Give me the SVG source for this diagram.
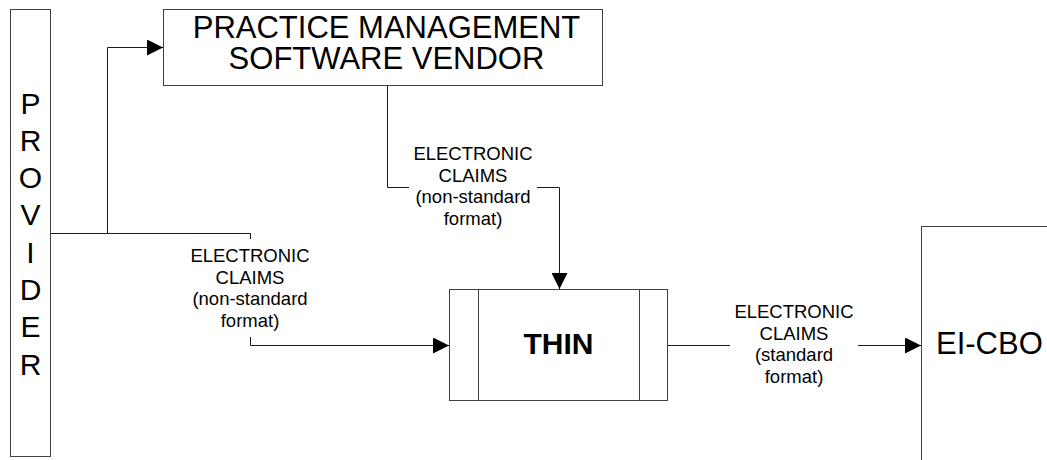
<svg xmlns="http://www.w3.org/2000/svg" width="1047" height="460" viewBox="0 0 1047 460">
  <style>
    .box { fill: #ffffff; stroke: #404040; stroke-width: 1; }
    .conn { fill: none; stroke: #1a1a1a; stroke-width: 1; }
    .big { font-family: "Liberation Sans", Arial, sans-serif; font-size: 30px; fill: #000; }
    .title { font-family: "Liberation Sans", Arial, sans-serif; font-size: 31px; fill: #000; text-anchor: middle; }
    .bold { font-family: "Liberation Sans", Arial, sans-serif; font-size: 30px; font-weight: bold; fill: #000; }
    .lbl { font-family: "Liberation Sans", Arial, sans-serif; font-size: 18.5px; fill: #000; text-anchor: middle; }
    .lblbg { fill: #ffffff; stroke: none; }
  </style>
  <defs>
    <marker id="arrow" markerUnits="userSpaceOnUse" markerWidth="16" markerHeight="16" refX="16" refY="8" orient="auto">
      <path d="M0,0 L16,8 L0,16 Z" fill="#000"/>
    </marker>
  </defs>
  <rect width="1047" height="460" fill="#ffffff"/>

  <!-- connectors -->
  <g id="connectors">
    <path class="conn" d="M51,233.5 H107.5 V47.5 H163" marker-end="url(#arrow)"/>
    <path class="conn" d="M107.5,233.5 H250.5 V345.5 H449" marker-end="url(#arrow)"/>
    <path class="conn" d="M387.5,86 V187.5 H559.5 V289" marker-end="url(#arrow)"/>
    <path class="conn" d="M668,345.5 H921" marker-end="url(#arrow)"/>

    <!-- connector labels -->
    <g id="label-provider-thin">
      <rect class="lblbg" x="186" y="239" width="129" height="98"/>
      <text class="lbl" x="250" y="262">ELECTRONIC</text>
      <text class="lbl" x="250" y="283.5">CLAIMS</text>
      <text class="lbl" x="250" y="305">(non-standard</text>
      <text class="lbl" x="250" y="326.5">format)</text>
    </g>
    <g id="label-vendor-thin">
      <rect class="lblbg" x="409" y="141" width="128" height="92"/>
      <text class="lbl" x="473" y="160">ELECTRONIC</text>
      <text class="lbl" x="473" y="181.5">CLAIMS</text>
      <text class="lbl" x="473" y="203">(non-standard</text>
      <text class="lbl" x="473" y="224.5">format)</text>
    </g>
    <g id="label-thin-eicbo">
      <rect class="lblbg" x="730" y="299" width="128" height="92"/>
      <text class="lbl" x="794" y="318">ELECTRONIC</text>
      <text class="lbl" x="794" y="339.5">CLAIMS</text>
      <text class="lbl" x="794" y="361">(standard</text>
      <text class="lbl" x="794" y="382.5">format)</text>
    </g>
  </g>

  <!-- provider column -->
  <g id="provider">
    <rect class="box" x="10.5" y="9.5" width="40" height="447"/>
    <g class="big" text-anchor="middle">
      <text x="30.5" y="113.5">P</text>
      <text x="30.5" y="150.8">R</text>
      <text x="30.5" y="188.1">O</text>
      <text x="30.5" y="225.4">V</text>
      <text x="30.5" y="262.7">I</text>
      <text x="30.5" y="300">D</text>
      <text x="30.5" y="337.3">E</text>
      <text x="30.5" y="374.6">R</text>
    </g>
  </g>

  <!-- practice management software vendor -->
  <g id="vendor">
    <rect class="box" x="163.5" y="9.5" width="439" height="76"/>
    <text class="title" x="386.5" y="38">PRACTICE MANAGEMENT</text>
    <text class="title" x="386.5" y="68.5">SOFTWARE VENDOR</text>
  </g>

  <!-- THIN processing box -->
  <g id="thin">
    <rect class="box" x="449.5" y="289.5" width="218" height="111"/>
    <line class="box" x1="478.5" y1="289.5" x2="478.5" y2="400.5"/>
    <line class="box" x1="639.5" y1="289.5" x2="639.5" y2="400.5"/>
    <text class="bold" x="558.5" y="354" text-anchor="middle">THIN</text>
  </g>

  <!-- EI-CBO -->
  <g id="eicbo">
    <rect class="box" x="921.5" y="226.5" width="140" height="250"/>
    <text class="big" x="936" y="353.5" style="font-size:31px">EI-CBO</text>
  </g>
</svg>
